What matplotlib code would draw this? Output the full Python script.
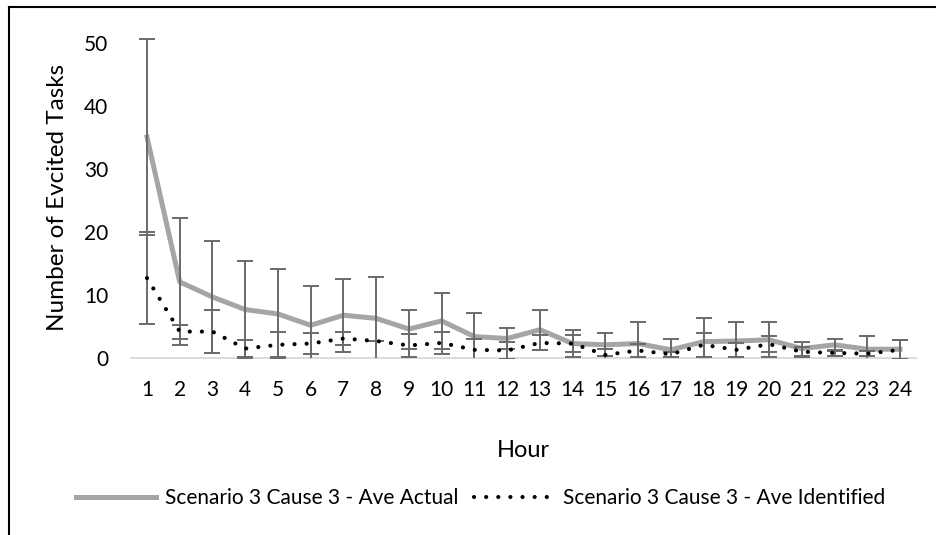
import matplotlib.pyplot as plt
from matplotlib.lines import Line2D

plt.rcParams['font.family'] = ['Lato', 'DejaVu Sans']

hours = list(range(1, 25))
actual = [35.1, 12.1, 9.7, 7.7, 7.0, 5.2, 6.8, 6.3, 4.6, 5.9, 3.4, 3.1,
          4.5, 2.3, 2.1, 2.3, 1.3, 2.6, 2.7, 2.9, 1.5, 2.1, 1.4, 1.4]
actual_err = [15.6, 10.1, 8.9, 7.7, 7.1, 6.3, 5.8, 6.6, 3.1, 4.5, 3.7, 1.6,
              3.2, 2.1, 1.8, 3.4, 1.7, 3.7, 3.1, 2.8, 1.1, 1.0, 2.1, 1.5]
identified = [12.7, 4.2, 4.2, 1.5, 2.1, 2.3, 3.1, 2.7, 2.0, 2.4, 1.3, 1.2,
              2.4, 2.3, 0.5, 1.2, 0.6, 2.1, 1.3, 2.2, 1.0, 0.8, 0.7, 1.3]
identified_err = [7.3, 1.1, 3.4, 1.3, 2.0, 1.7, 1.1, 0.0, 1.8, 1.8, 1.7, 1.4,
                  1.2, 1.35, 0.9, 1.0, 0.4, 1.9, 1.1, 1.3, 0.8, 0.5, 0.4, 1.5]

fig = plt.figure(figsize=(9.37, 5.35), dpi=100)
ax = fig.add_axes([0.1394, 0.3308, 0.8386, 0.600])

ax.plot(hours, actual, color='#a5a5a5', lw=3.6, solid_joinstyle='round',
        label='Scenario 3 Cause 3 - Ave Actual', zorder=2)
ax.errorbar(hours, actual, yerr=actual_err, fmt='none', ecolor='#6a6a6a',
            elinewidth=1.4, capsize=5.5, capthick=1.4, zorder=3)
ax.plot(hours, identified, color='black', lw=3.0, linestyle=(0, (0.01, 2.9)),
        dash_capstyle='round', label='Scenario 3 Cause 3 - Ave Identified', zorder=4)
ax.errorbar(hours, identified, yerr=identified_err, fmt='none', ecolor='#6a6a6a',
            elinewidth=1.4, capsize=5.5, capthick=1.4, zorder=3)

ax.set_xlim(0.5, 24.5)
ax.set_ylim(0, 51)
ax.set_yticks([0, 10, 20, 30, 40, 50])
ax.set_xticks(hours)
ax.tick_params(axis='both', length=0, labelsize=15)
ax.tick_params(axis='x', pad=16)
ax.tick_params(axis='y', pad=16)
for s in ['top', 'right', 'left']:
    ax.spines[s].set_visible(False)
ax.spines['bottom'].set_color('#d9d9d9')
ax.spines['bottom'].set_linewidth(1.3)

ax.set_ylabel('Number of Evcited Tasks', fontsize=17.5)
ax.yaxis.set_label_coords(-0.080, 0.5)
ax.set_xlabel('Hour', fontsize=17)
ax.xaxis.set_label_coords(0.5, -0.255)

fig.legend(loc='center', bbox_to_anchor=(0.513, 0.069), ncol=2, frameon=False,
           fontsize=15, handlelength=3.85, handletextpad=0.4, columnspacing=0.77)

# chart border (top and left edges visible)
fig.add_artist(Line2D([9 / 937, 1.0], [1 - 7 / 535, 1 - 7 / 535], color='black', lw=1.5))
fig.add_artist(Line2D([9 / 937, 9 / 937], [0.0, 1 - 7 / 535], color='black', lw=1.5))

fig.savefig('out.png', dpi=100)
